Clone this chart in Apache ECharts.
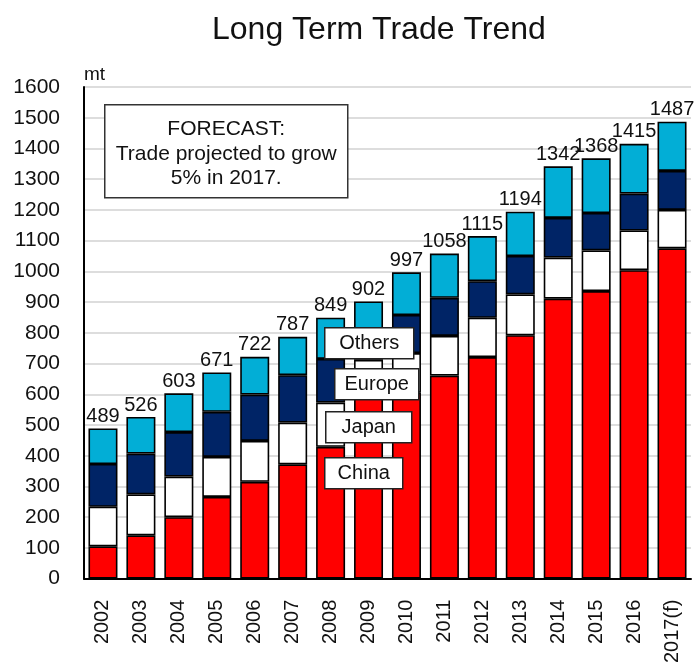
<!DOCTYPE html>
<html>
<head>
<meta charset="utf-8">
<script src="https://cdn.jsdelivr.net/npm/echarts@6/dist/echarts.min.js"></script>
<style>
html,body{margin:0;padding:0;background:#fff;width:100%;height:100%;overflow:hidden;}
#chart{width:100%;height:100%;}
</style>
</head>
<body>
<div id="chart"></div>
<script>
const categories = ['2002','2003','2004','2005','2006','2007','2008','2009','2010','2011','2012','2013','2014','2015','2016','2017(f)'];
const china  = [105,141,200,266,315,372,429,615,605,661,721,792,911,936,1004,1075];
const japan  = [129,133,132,130,133,136,144, 97,129,129,128,133,134,132, 129, 125];
const europe = [139,133,145,147,151,154,142, 65,124,124,119,125,129,122, 120, 127];
const others = [116,119,126,128,123,125,134,125,139,144,147,144,168,178, 162, 160];
const totals = [489,526,603,671,722,787,849,902,997,1058,1115,1194,1342,1368,1415,1487];
const yTicks = [0,100,200,300,400,500,600,700,800,900,1000,1100,1200,1300,1400,1500,1600];

const FONT = "'Liberation Sans', Arial, sans-serif";
const el = document.getElementById('chart');
const chart = echarts.init(el, null, {renderer:'canvas'});
const H = el.clientHeight || 666;

function seg(name, data, color, withLabel){
  const s = {
    name: name, type: 'bar', stack: 'total', data: data,
    barWidth: 29, z: 2,
    itemStyle: {color: color, borderColor: '#000', borderWidth: 1.6},
    emphasis: {disabled: true},
    animation: false
  };
  if (withLabel) {
    s.label = {
      show: true, position: 'top', distance: 2,
      fontFamily: FONT, fontSize: 20, color: '#111',
      formatter: p => String(totals[p.dataIndex])
    };
  }
  return s;
}

function legendBox(x, y, w, h, text){
  return {
    type: 'group', left: x, top: y, z: 100,
    children: [
      {type:'rect', z: 100, shape:{x:0,y:0,width:w,height:h}, style:{fill:'#fff', stroke:'#222', lineWidth:1.5}},
      {type:'text', z: 101, x: w/2, y: h/2, style:{text:text, fontFamily:FONT, fontSize:20, fill:'#111', align:'center', verticalAlign:'middle'}}
    ]
  };
}

const option = {
  backgroundColor: '#fff',
  animation: false,
  title: {
    text: 'Long Term Trade Trend',
    left: 207, top: 9,
    textStyle: {fontFamily: FONT, fontSize: 32, fontWeight: 'normal', color: '#111'}
  },
  grid: {left: 84, right: 6, top: 87, height: 498, containLabel: false},
  xAxis: {
    type: 'category', data: categories,
    axisLine: {show: true, lineStyle: {color: '#000', width: 2}},
    axisTick: {show: false},
    axisLabel: {rotate: 90, margin: 21, fontFamily: FONT, fontSize: 20, color: '#111', interval: 0}
  },
  yAxis: {
    type: 'value', min: 0, max: 1600, interval: 100,
    name: 'mt', nameLocation: 'end', nameGap: 3,
    nameTextStyle: {fontFamily: FONT, fontSize: 19, color: '#111', align: 'left', verticalAlign: 'bottom'},
    axisLine: {show: true, lineStyle: {color: '#000', width: 2}},
    axisTick: {show: false},
    axisLabel: {margin: 24, fontFamily: FONT, fontSize: 21, color: '#111',
      formatter: v => (yTicks.indexOf(v) >= 0 ? String(v) : '')},
    splitLine: {show: true, lineStyle: {color: '#d2d2d2', width: 1.5}}
  },
  series: [
    seg('China', china, '#FF0000', false),
    seg('Japan', japan, '#FFFFFF', false),
    seg('Europe', europe, '#002466', false),
    seg('Others', others, '#02AED6', true)
  ],
  graphic: [
    {
      type: 'group', left: 104, top: 104, z: 100,
      children: [
        {type:'rect', z: 100, shape:{x:0,y:0,width:243,height:93}, style:{fill:'#fff', stroke:'#333', lineWidth:1.5}},
        {type:'text', z: 101, x:121.5, y:24, style:{text:'FORECAST:', fontFamily:FONT, fontSize:21, fill:'#111', align:'center', verticalAlign:'middle'}},
        {type:'text', z: 101, x:121.5, y:49, style:{text:'Trade projected to grow', fontFamily:FONT, fontSize:21, fill:'#111', align:'center', verticalAlign:'middle'}},
        {type:'text', z: 101, x:121.5, y:73, style:{text:'5% in 2017.', fontFamily:FONT, fontSize:21, fill:'#111', align:'center', verticalAlign:'middle'}}
      ]
    },
    legendBox(324, 327, 89, 31, 'Others'),
    legendBox(334, 368, 84, 31, 'Europe'),
    legendBox(325, 411, 86, 31, 'Japan'),
    legendBox(324, 457, 78, 31, 'China')
  ]
};
chart.setOption(option);
</script>
</body>
</html>
